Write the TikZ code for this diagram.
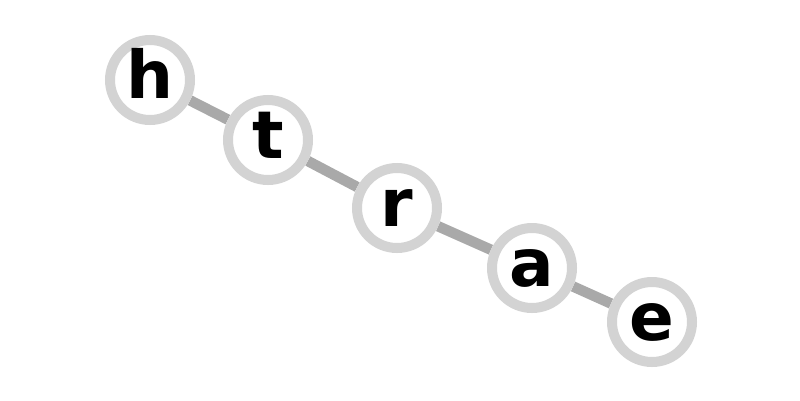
\documentclass[tikz,border=0pt]{standalone}
\usepackage{fontspec}
\setsansfont{DejaVu Sans}
\usetikzlibrary{backgrounds}
\usepackage{xcolor}
\definecolor{ringgray}{HTML}{D3D3D3}
\definecolor{linkgray}{HTML}{A9A9A9}

\begin{document}
\begin{tikzpicture}[x=1pt,y=-1pt,
  letter/.style={circle, draw=ringgray, fill=white, line width=10pt,
    minimum size=80pt, inner sep=0pt, text height=36pt, text depth=0pt,
    font=\sffamily\bfseries\fontsize{66}{66}\selectfont},
  link/.style={linkgray, line width=10.5pt}]

\useasboundingbox (0,0) rectangle (800,400);

% nodes
\node[letter] (h) at (150,80) {h};
\node[letter] (t) at (268,140) {t};
\node[letter] (r) at (397,208) {r};
\node[letter] (a) at (532,268) {a};
\node[letter] (e) at (652,322) {e};

% links
\begin{scope}[on background layer]
\draw[link] (h) -- (t);
\draw[link] (t) -- (r);
\draw[link] (r) -- (a);
\draw[link] (a) -- (e);
\end{scope}

\end{tikzpicture}
\end{document}
